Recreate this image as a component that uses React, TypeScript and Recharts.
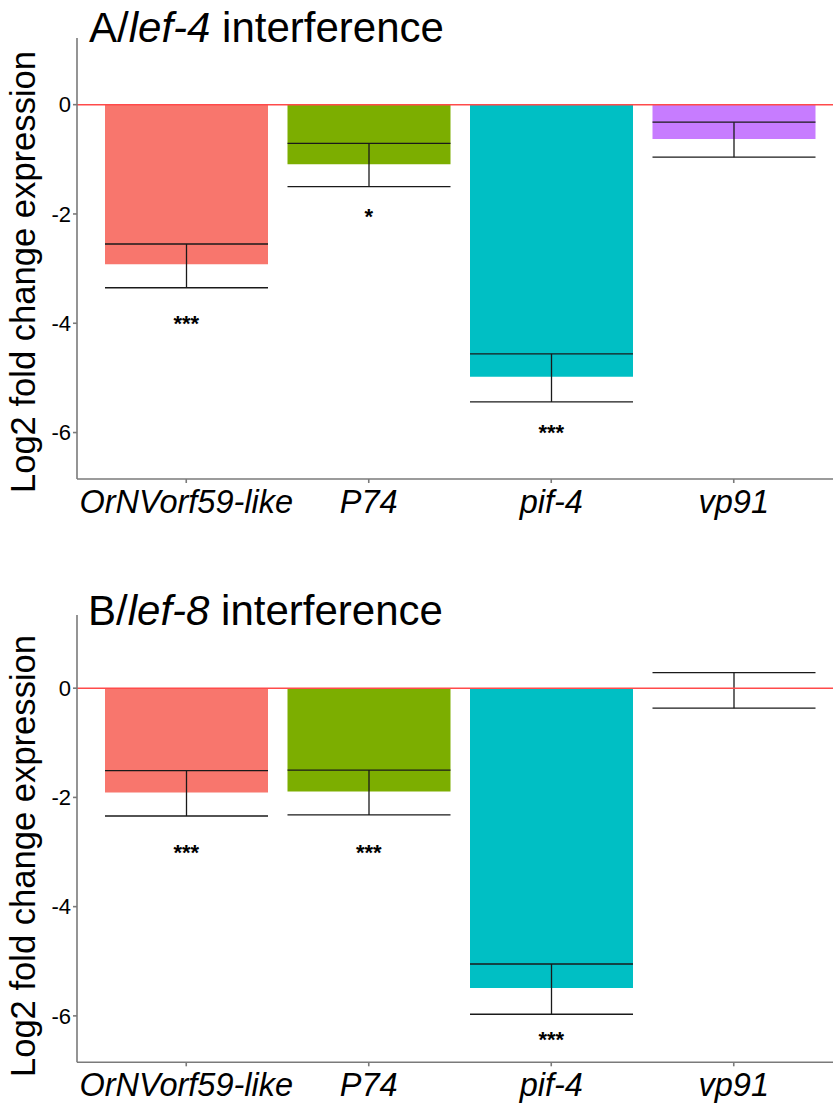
import React from 'react';
import { ComposedChart, Bar, Line, XAxis, YAxis, ErrorBar, ReferenceLine, Cell } from 'recharts';

const genes = ['OrNVorf59-like', 'P74', 'pif-4', 'vp91'];
const barColors = ['#F8766D', '#7CAE00', '#00BFC4', '#C77CFF'];
const yTicks = [0, -2, -4, -6];

// panel A, lef-4 interference
const lef4Mean = [-2.92, -1.09, -4.98, -0.63];
const lef4Upper = [-2.55, -0.71, -4.56, -0.32];
const lef4Lower = [-3.35, -1.5, -5.44, -0.96];
const lef4Sig = ['***', '*', '***', ''];
const lef4SigPos = [-3.92, -1.95, -5.91, null];

// panel B, lef-8 interference
const lef8Mean = [-1.91, -1.89, -5.49, -0.01];
const lef8Upper = [-1.51, -1.5, -5.05, 0.285];
const lef8Lower = [-2.34, -2.32, -5.97, -0.366];
const lef8Sig = ['***', '***', '***', ''];
const lef8SigPos = [-2.92, -2.92, -6.34, null];

const font = '"Liberation Sans", Arial, sans-serif';

const buildRows = (mean: number[], upper: number[], lower: number[], sig: string[], sigPos: (number | null)[]) =>
  genes.map((g, i) => ({
    gene: g,
    mean: mean[i],
    err: [mean[i] - lower[i], upper[i] - mean[i]],
    sig: sig[i],
    sigPos: sigPos[i],
  }));

const rowsA = buildRows(lef4Mean, lef4Upper, lef4Lower, lef4Sig, lef4SigPos);
const rowsB = buildRows(lef8Mean, lef8Upper, lef8Lower, lef8Sig, lef8SigPos);

const renderStar = (p: any) => {
  if (p.cy == null || !p.payload || !p.payload.sig) return <g key={`s${p.index}`} />;
  return (
    <text key={`s${p.index}`} x={p.cx} y={p.cy + 12.6} textAnchor="middle" fontSize={22} fontWeight={700} fontFamily={font} fill="#000">
      {p.payload.sig}
    </text>
  );
};

const Panel = ({ rows, domain, top, marginTop, height }: any) => (
  <div style={{ position: 'absolute', left: 0, top }}>
    <ComposedChart width={843} height={height} data={rows} margin={{ top: marginTop, right: 0, left: 0, bottom: 0 }}>
      <XAxis
        dataKey="gene"
        height={height - marginTop - (domain[2] as number)}
        padding={{ left: 18, right: 18 }}
        interval={0}
        tickSize={4}
        tickMargin={7}
        stroke="#7a7a7a"
        strokeWidth={1.6}
        tick={{ fill: '#000', fontSize: 32.5, fontStyle: 'italic', fontFamily: font }}
      />
      <YAxis
        width={77}
        domain={[domain[0], domain[1]]}
        ticks={yTicks}
        allowDataOverflow
        tickSize={4}
        tickMargin={2}
        stroke="#7a7a7a"
        strokeWidth={1.6}
        tick={{ fill: '#000', fontSize: 22, fontFamily: font }}
      />
      <Bar dataKey="mean" barSize={163} isAnimationActive={false}>
        {rows.map((r: any, i: number) => (
          <Cell key={r.gene} fill={barColors[i]} />
        ))}
        <ErrorBar dataKey="err" width={81.5} stroke="#1a1a1a" strokeWidth={1.3} />
      </Bar>
      <ReferenceLine y={0} stroke="#ff4a4a" strokeWidth={1.5} />
      <Line dataKey="sigPos" stroke="none" dot={renderStar} activeDot={false} isAnimationActive={false} />
    </ComposedChart>
  </div>
);

export default function App() {
  return (
    <div style={{ position: 'absolute', left: 0, top: 0, width: 833, height: 1104, overflow: 'hidden', background: '#fff' }}>
      {/* domain[2] = plot height */}
      <Panel rows={rowsA} domain={[-6.85, 1.22, 441]} top={0} marginTop={38} height={539} />
      <Panel rows={rowsB} domain={[-6.85, 1.34, 447.3]} top={560} marginTop={55} height={544} />
      <svg width={833} height={1104} style={{ position: 'absolute', left: 0, top: 0, pointerEvents: 'none' }}>
        <text x={89} y={42} fontSize={42} fontFamily={font} fill="#000">
          A/<tspan fontStyle="italic">lef-4</tspan> interference
        </text>
        <text x={88} y={625} fontSize={42} fontFamily={font} fill="#000">
          B/<tspan fontStyle="italic">lef-8</tspan> interference
        </text>
        <text x={35} y={272} fontSize={34.6} fontFamily={font} fill="#000" textAnchor="middle" transform="rotate(-90 35 272)">
          Log2 fold change expression
        </text>
        <text x={35} y={856} fontSize={34.6} fontFamily={font} fill="#000" textAnchor="middle" transform="rotate(-90 35 856)">
          Log2 fold change expression
        </text>
      </svg>
    </div>
  );
}
